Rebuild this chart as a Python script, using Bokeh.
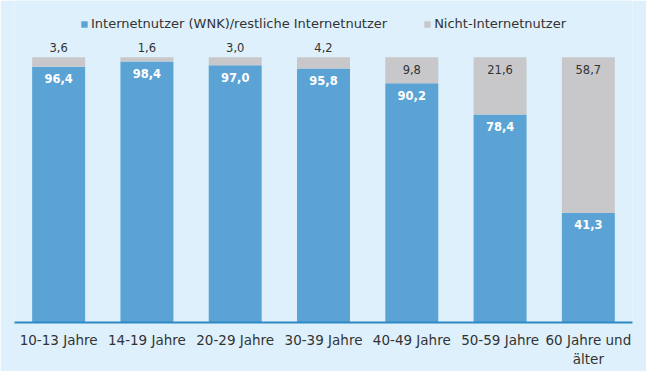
from bokeh.plotting import figure
from bokeh.models import ColumnDataSource, Legend, LabelSet, FactorRange
from bokeh.core.properties import value
from bokeh.embed import file_html
from bokeh.resources import INLINE

categories = ["10-13 Jahre", "14-19 Jahre", "20-29 Jahre", "30-39 Jahre",
              "40-49 Jahre", "50-59 Jahre", "60 Jahre und\nälter"]
internet = [96.4, 98.4, 97.0, 95.8, 90.2, 78.4, 41.3]
nicht = [3.6, 1.6, 3.0, 4.2, 9.8, 21.6, 58.7]

BG = "#ddf0fb"
BLUE = "#5ba3d4"
GREY = "#c8c8ca"
FONT = "DejaVu Sans"

fmt = lambda v: f"{v:.1f}".replace(".", ",")
total = [a + b for a, b in zip(internet, nicht)]
src = ColumnDataSource(dict(
    cat=categories,
    internet=internet,
    nicht=nicht,
    top=total,
    lab_i=[fmt(v) for v in internet],
    lab_n=[fmt(v) for v in nicht],
    off_n=[10 if v < 5 else -12 for v in nicht],
))

p = figure(width=646, height=371, x_range=FactorRange(*categories, range_padding=0),
           y_range=(0, 121.4), output_backend="svg", toolbar_location=None,
           min_border_left=14, min_border_right=14, min_border_top=0, min_border_bottom=49)
p.x_range.factor_padding = 0
p.background_fill_color = BG
p.border_fill_color = BG
p.outline_line_color = None
p.grid.visible = False
p.yaxis.visible = False

rs = p.vbar_stack(["internet", "nicht"], x="cat", width=0.6, source=src,
                  color=[BLUE, GREY], line_color=None)

p.add_layout(LabelSet(x="cat", y="internet", text="lab_i", source=src,
                      text_align="center", text_baseline="middle", y_offset=-12,
                      text_color="white", text_font=value(FONT), text_font_style="bold",
                      text_font_size="11.5px"))
p.add_layout(LabelSet(x="cat", y="top", text="lab_n", source=src,
                      text_align="center", text_baseline="middle", y_offset="off_n",
                      text_color="#333333", text_font=value(FONT),
                      text_font_size="11.5px"))

legend = Legend(items=[("Internetnutzer (WNK)/restliche Internetnutzer", [rs[0]]),
                       ("Nicht-Internetnutzer", [rs[1]])],
                location="top_center", orientation="horizontal",
                glyph_width=8, glyph_height=8, label_standoff=3, spacing=36,
                padding=0, margin=16, label_height=14,
                label_text_font=FONT, label_text_font_size="13px",
                label_text_color="#333333",
                background_fill_alpha=0, border_line_color=None)
p.add_layout(legend)

ax = p.xaxis[0]
ax.axis_line_color = "#2d8ac4"
ax.axis_line_width = 2
ax.major_tick_line_color = None
ax.minor_tick_line_color = None
ax.major_tick_out = 0
ax.major_label_standoff = 9
ax.major_label_text_font = FONT
ax.major_label_text_font_size = "13.5px"
ax.major_label_text_color = "#333333"

open("out.html", "w").write(file_html(p, INLINE))
